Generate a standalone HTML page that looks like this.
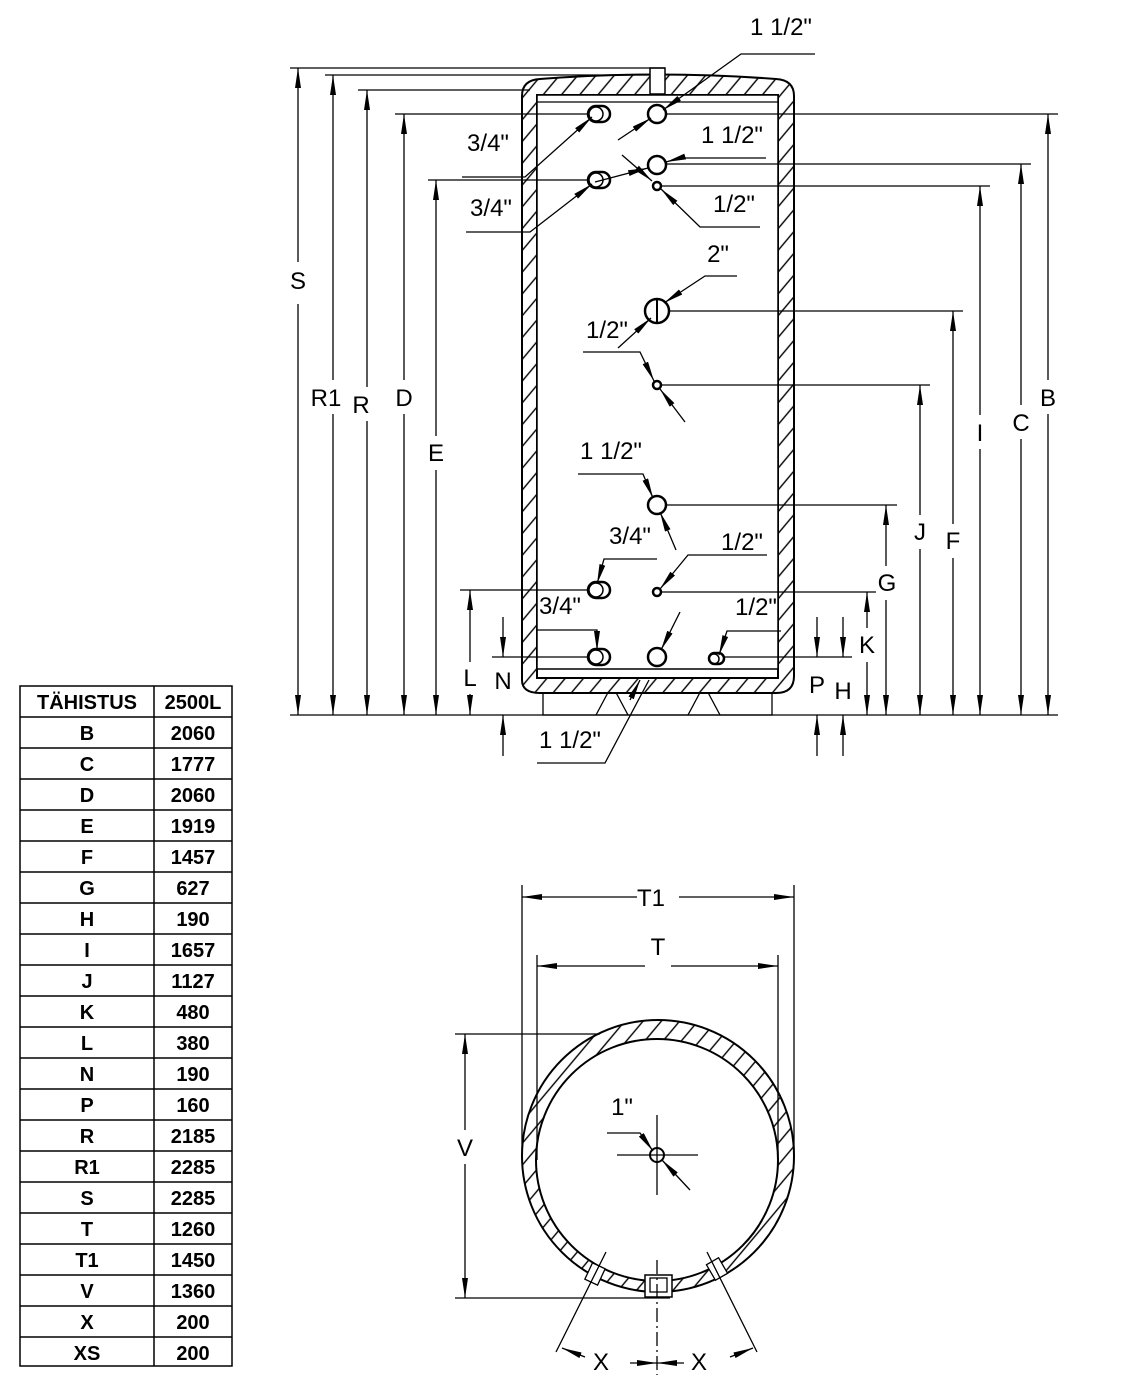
<!DOCTYPE html>
<html><head><meta charset="utf-8"><style>
html,body{margin:0;padding:0;background:#fff;}
svg{display:block;}
.l{font-family:"Liberation Sans Narrow","Liberation Sans",sans-serif;font-size:24px;fill:#000;}
.t{font-family:"Liberation Sans",sans-serif;font-size:20px;font-weight:bold;fill:#000;text-anchor:middle;}
</style></head><body>
<svg width="1131" height="1378" viewBox="0 0 1131 1378" xmlns="http://www.w3.org/2000/svg">
<defs>
<pattern id="h" width="14" height="14" patternUnits="userSpaceOnUse" patternTransform="rotate(40)">
<rect width="14" height="14" fill="#fff"/><line x1="1" y1="0" x2="1" y2="14" stroke="#000" stroke-width="1.4"/></pattern>
<marker id="a" viewBox="0 0 20 6" refX="20" refY="3" markerWidth="20" markerHeight="6" markerUnits="userSpaceOnUse" orient="auto"><path d="M0,0 L20,3 L0,6 Z" fill="#000"/></marker>
<marker id="b" viewBox="0 0 20 6" refX="0" refY="3" markerWidth="20" markerHeight="6" markerUnits="userSpaceOnUse" orient="auto"><path d="M20,0 L0,3 L20,6 Z" fill="#000"/></marker>
</defs>
<g stroke="#000" stroke-width="1.3" fill="none">
<!-- feet -->
<rect x="543" y="678" width="229" height="37" fill="#fff"/>
<path d="M596,715 L612,685 L628,715 M688,715 L704,685 L720,715" />
<!-- tank walls -->
<path fill="url(#h)" fill-rule="evenodd" stroke-width="2" d="M522,680 L522,96 Q522,80 540,79 Q658,70 776,79 Q794,80 794,96 L794,676 Q794,693 776,693 L540,693 Q522,693 522,680 Z M537,95 L778,95 L778,678 L537,678 Z"/>
<rect x="537" y="95" width="241" height="574" fill="#fff" stroke-width="1.5"/>
<line x1="537" y1="102" x2="778" y2="102"/>
<rect x="650" y="68" width="15" height="26" fill="#fff" stroke-width="1.5"/>
<!-- ground -->
<line x1="290" y1="715" x2="1058" y2="715"/>
<!-- extension lines left -->
<path d="M290,68 L665,68 M325,75 L650,75 M358,90 L530,90 M395,114 L597,114 M428,180 L597,180 M460,590 L597,590 M492,657 L597,657"/>
<!-- extension lines right -->
<path d="M657,114 L1058,114 M665,164 L1031,164 M657,186 L990,186 M670,311 L963,311 M657,385 L930,385 M665,505 L897,505 M657,592 L877,592 M720,657 L852,657"/>
<!-- vertical dims left -->
<line x1="298" y1="68" x2="298" y2="715" marker-start="url(#b)" marker-end="url(#a)"/>
<line x1="333" y1="75" x2="333" y2="715" marker-start="url(#b)" marker-end="url(#a)"/>
<line x1="367" y1="90" x2="367" y2="715" marker-start="url(#b)" marker-end="url(#a)"/>
<line x1="404" y1="114" x2="404" y2="715" marker-start="url(#b)" marker-end="url(#a)"/>
<line x1="436" y1="180" x2="436" y2="715" marker-start="url(#b)" marker-end="url(#a)"/>
<line x1="470" y1="590" x2="470" y2="715" marker-start="url(#b)" marker-end="url(#a)"/>
<line x1="503" y1="617" x2="503" y2="657" marker-end="url(#a)"/>
<line x1="503" y1="756" x2="503" y2="715" marker-end="url(#a)"/>
<!-- vertical dims right -->
<line x1="1048" y1="114" x2="1048" y2="715" marker-start="url(#b)" marker-end="url(#a)"/>
<line x1="1021" y1="164" x2="1021" y2="715" marker-start="url(#b)" marker-end="url(#a)"/>
<line x1="980" y1="186" x2="980" y2="715" marker-start="url(#b)" marker-end="url(#a)"/>
<line x1="953" y1="311" x2="953" y2="715" marker-start="url(#b)" marker-end="url(#a)"/>
<line x1="920" y1="385" x2="920" y2="715" marker-start="url(#b)" marker-end="url(#a)"/>
<line x1="886" y1="505" x2="886" y2="715" marker-start="url(#b)" marker-end="url(#a)"/>
<line x1="867" y1="592" x2="867" y2="715" marker-start="url(#b)" marker-end="url(#a)"/>
<line x1="817" y1="617" x2="817" y2="657" marker-end="url(#a)"/>
<line x1="817" y1="756" x2="817" y2="715" marker-end="url(#a)"/>
<line x1="843" y1="617" x2="843" y2="657" marker-end="url(#a)"/>
<line x1="843" y1="756" x2="843" y2="715" marker-end="url(#a)"/>
<!-- ports -->
<g stroke-width="2.5" fill="#fff">
<circle cx="657" cy="114" r="9"/><circle cx="657" cy="165" r="9"/><circle cx="657" cy="186" r="4"/>
<circle cx="657" cy="311" r="12"/><circle cx="657" cy="385" r="4"/><circle cx="657" cy="505" r="9"/>
<circle cx="657" cy="592" r="4"/><circle cx="657" cy="657" r="9"/>
<rect x="588" y="106" width="22" height="16" rx="8"/><rect x="588" y="172" width="22" height="16" rx="8"/>
<rect x="588" y="582" width="22" height="16" rx="8"/><rect x="588" y="649" width="22" height="16" rx="8"/>
<rect x="709" y="653" width="15" height="11" rx="5.5"/>
</g>
<g stroke-width="1.5">
<circle cx="596" cy="114" r="7"/><circle cx="596" cy="180" r="7"/><circle cx="596" cy="590" r="7"/><circle cx="596" cy="657" r="7"/><circle cx="714" cy="659" r="5"/>
</g>
<path d="M657,299 L657,323" stroke-width="2"/>
<!-- leaders -->
<path d="M815,54 L741,54 L663,110" marker-end="url(#a)"/>
<path d="M618,140 L651,118" marker-end="url(#a)"/>
<path d="M462,177 L525,177 L592,117" marker-end="url(#a)"/>
<path d="M766,158 L680,158 L666,162" marker-end="url(#a)"/>
<path d="M622,155 L652,181" marker-end="url(#a)"/>
<path d="M466,232 L530,232 L592,184" marker-end="url(#a)"/>
<path d="M595,182 L648,168" marker-end="url(#a)"/>
<path d="M760,227 L700,227 L661,189" marker-end="url(#a)"/>
<path d="M737,276 L705,276 L664,303" marker-end="url(#a)"/>
<path d="M618,348 L651,318" marker-end="url(#a)"/>
<path d="M583,352 L640,352 L654,381" marker-end="url(#a)"/>
<path d="M685,422 L660,389" marker-end="url(#a)"/>
<path d="M578,474 L643,474 L653,498" marker-end="url(#a)"/>
<path d="M676,550 L660,512" marker-end="url(#a)"/>
<path d="M657,559 L604,559 L597,584" marker-end="url(#a)"/>
<path d="M767,555 L688,555 L660,589" marker-end="url(#a)"/>
<path d="M537,630 L597,630 L597,651" marker-end="url(#a)"/>
<path d="M680,612 L661,650" marker-end="url(#a)"/>
<path d="M781,631 L727,631 L719,655" marker-end="url(#a)"/>
<path d="M537,763 L605,763 L649,680" />
<path d="M630,700 L640,680" marker-end="url(#a)"/>
<!-- bottom view -->
<circle cx="658" cy="1156" r="136" fill="url(#h)" stroke-width="2"/>
<circle cx="657" cy="1160" r="121" fill="#fff" stroke-width="2"/>
<rect x="645" y="1275" width="27" height="22" fill="#fff" stroke-width="1.5"/>
<rect x="650" y="1278" width="17" height="14" fill="none"/>
<rect x="588" y="1265" width="14" height="18" fill="#fff" transform="rotate(25 595 1274)"/>
<rect x="710" y="1260" width="14" height="18" fill="#fff" transform="rotate(-30 717 1269)"/>
<path d="M522,885 L522,1150 M794,885 L794,1150 M537,955 L537,1160 M778,955 L778,1160"/>
<line x1="522" y1="897" x2="794" y2="897" marker-start="url(#b)" marker-end="url(#a)"/>
<line x1="537" y1="966" x2="778" y2="966" marker-start="url(#b)" marker-end="url(#a)"/>
<path d="M455,1034 L600,1034 M455,1298 L670,1298"/>
<line x1="465" y1="1034" x2="465" y2="1298" marker-start="url(#b)" marker-end="url(#a)"/>
<circle cx="657" cy="1155" r="7" stroke-width="2" fill="#fff"/>
<path d="M617,1155 L698,1155 M657,1115 L657,1195"/>
<path d="M607,1133 L640,1133 L653,1151" marker-end="url(#a)"/>
<path d="M690,1190 L662,1160" marker-end="url(#a)"/>
<path d="M657,1260 L657,1375" stroke-dasharray="14,4,2,4"/>
<path d="M606,1252 L556,1352 M707,1252 L757,1352"/>
<path d="M585,1357 L562,1348" marker-end="url(#a)"/>
<path d="M730,1357 L753,1348" marker-end="url(#a)"/>
<path d="M630,1363 L657,1363" marker-end="url(#a)"/>
<path d="M684,1363 L657,1363" marker-end="url(#a)"/>
</g>
<!-- label backgrounds -->
<g fill="#fff">
<rect x="288" y="262" width="20" height="42"/><rect x="316" y="380" width="26" height="34"/>
<rect x="357" y="387" width="20" height="34"/><rect x="394" y="380" width="20" height="34"/>
<rect x="426" y="436" width="20" height="34"/><rect x="460" y="662" width="20" height="32"/>
<rect x="1038" y="380" width="20" height="34"/><rect x="1011" y="405" width="20" height="34"/>
<rect x="970" y="415" width="20" height="34"/><rect x="943" y="524" width="20" height="34"/>
<rect x="910" y="515" width="20" height="34"/><rect x="876" y="566" width="20" height="34"/>
<rect x="857" y="628" width="20" height="34"/>
<rect x="637" y="882" width="42" height="30"/><rect x="645" y="952" width="26" height="30"/>
<rect x="455" y="1130" width="20" height="34"/>
</g>
<g class="l" text-anchor="middle">
<text x="298" y="289">S</text><text x="326" y="406">R1</text><text x="361" y="413">R</text>
<text x="404" y="406">D</text><text x="436" y="461">E</text><text x="470" y="686">L</text>
<text x="503" y="689">N</text><text x="817" y="693">P</text><text x="843" y="699">H</text>
<text x="867" y="653">K</text><text x="887" y="591">G</text><text x="920" y="540">J</text>
<text x="953" y="549">F</text><text x="980" y="441">I</text><text x="1021" y="431">C</text>
<text x="1048" y="406">B</text>
<text x="781" y="35">1 1/2"</text><text x="488" y="151">3/4"</text><text x="732" y="143">1 1/2"</text>
<text x="491" y="216">3/4"</text><text x="734" y="212">1/2"</text><text x="718" y="262">2"</text>
<text x="607" y="338">1/2"</text><text x="611" y="459">1 1/2"</text><text x="630" y="544">3/4"</text>
<text x="742" y="550">1/2"</text><text x="560" y="614">3/4"</text><text x="756" y="615">1/2"</text>
<text x="570" y="748">1 1/2"</text>
<text x="651" y="906">T1</text><text x="658" y="955">T</text><text x="465" y="1156">V</text>
<text x="622" y="1115">1"</text><text x="601" y="1370">X</text><text x="699" y="1370">X</text>
</g>
<!-- table -->
<g stroke="#000" stroke-width="1.5" fill="none">
<rect x="20" y="686" width="212" height="680"/>
<line x1="154" y1="686" x2="154" y2="1366"/>
<path d="M20,717H232 M20,748H232 M20,779H232 M20,810H232 M20,841H232 M20,872H232 M20,903H232 M20,934H232 M20,965H232 M20,996H232 M20,1027H232 M20,1058H232 M20,1089H232 M20,1120H232 M20,1151H232 M20,1182H232 M20,1213H232 M20,1244H232 M20,1275H232 M20,1306H232 M20,1337H232"/>
</g>
<g class="t">
<text x="87" y="709">TÄHISTUS</text><text x="193" y="709">2500L</text>
<text x="87" y="740">B</text><text x="193" y="740">2060</text>
<text x="87" y="771">C</text><text x="193" y="771">1777</text>
<text x="87" y="802">D</text><text x="193" y="802">2060</text>
<text x="87" y="833">E</text><text x="193" y="833">1919</text>
<text x="87" y="864">F</text><text x="193" y="864">1457</text>
<text x="87" y="895">G</text><text x="193" y="895">627</text>
<text x="87" y="926">H</text><text x="193" y="926">190</text>
<text x="87" y="957">I</text><text x="193" y="957">1657</text>
<text x="87" y="988">J</text><text x="193" y="988">1127</text>
<text x="87" y="1019">K</text><text x="193" y="1019">480</text>
<text x="87" y="1050">L</text><text x="193" y="1050">380</text>
<text x="87" y="1081">N</text><text x="193" y="1081">190</text>
<text x="87" y="1112">P</text><text x="193" y="1112">160</text>
<text x="87" y="1143">R</text><text x="193" y="1143">2185</text>
<text x="87" y="1174">R1</text><text x="193" y="1174">2285</text>
<text x="87" y="1205">S</text><text x="193" y="1205">2285</text>
<text x="87" y="1236">T</text><text x="193" y="1236">1260</text>
<text x="87" y="1267">T1</text><text x="193" y="1267">1450</text>
<text x="87" y="1298">V</text><text x="193" y="1298">1360</text>
<text x="87" y="1329">X</text><text x="193" y="1329">200</text>
<text x="87" y="1360">XS</text><text x="193" y="1360">200</text>
</g>
</svg>
</body></html>
